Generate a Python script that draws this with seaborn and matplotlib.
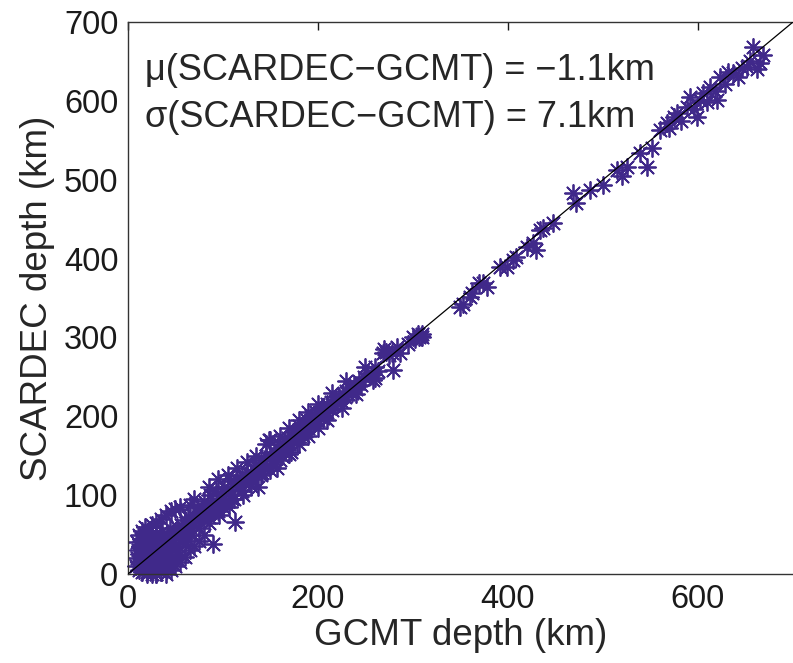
import seaborn as sns
import numpy as np
import pandas as pd
import matplotlib.pyplot as plt

# depths in km (GCMT, SCARDEC)
gcmt_shallow = [12, 12, 12, 13, 14, 15, 15, 15, 16, 17, 18, 18, 19, 20, 20, 21, 22, 23, 24, 25,
                25, 26, 27, 28, 29, 30, 30, 31, 32, 33, 33, 34, 35, 35, 36, 37, 38, 39, 40, 40,
                41, 42, 43, 44, 45, 45, 46, 47, 48, 50, 50, 52, 53, 54, 55, 56, 58, 59, 60, 60,
                10, 11, 14, 17, 22, 26, 30, 34, 38, 28, 20, 24,
                8, 10, 12, 15, 18, 25, 30, 35, 40, 45, 50, 55,
                40, 45, 50, 55, 60, 65, 70, 75, 80, 20, 30]
scardec_shallow = [5, 15, 25, 35, 10, 20, 30, 2, 40, 12, 25, 33, 6, 18, 28, 45, 10, 22, 35, 15,
                   0, 28, 40, 20, 52, 8, 30, 24, 38, 15, 33, 45, 2, 28, 55, 20, 36, 42, 10, 30,
                   48, 25, 38, 58, 15, 44, 32, 52, 40, 20, 47, 60, 35, 50, 25, 62, 45, 55, 38, 68,
                   20, 30, 45, 50, 55, 5, 0, 18, 22, 8, 2, 48,
                   10, 40, 50, 55, 60, 62, 65, 70, 75, 80, 82, 85,
                   0, 5, 10, 15, 22, 30, 35, 42, 50, 0, 0]

gcmt_mid = [62, 63, 65, 66, 68, 70, 72, 73, 75, 76, 78, 80, 80, 82, 84, 85, 86, 88, 89, 90,
            92, 93, 95, 96, 98, 100, 101, 103, 105, 106, 108, 110, 112, 113, 114, 116, 118, 120, 121, 123,
            125, 127, 128, 130, 132, 134, 135, 137, 138, 140, 141, 143, 145, 146, 148, 150, 152, 154, 155, 157,
            158, 160, 162, 163, 165, 167, 168, 170, 172, 174, 175, 177, 178, 180, 182, 184, 185, 187, 188, 190,
            192, 193, 195, 197, 198, 200, 202, 204, 205, 207, 209, 210, 212, 214, 215, 217, 219, 220, 222, 224,
            226, 228, 230, 232, 234, 236, 238, 240, 243, 245, 248, 250, 253, 256, 258, 260, 263, 268, 270, 272,
            275, 278, 279, 283, 286, 295, 300, 302, 305, 306, 308, 309, 310,
            65, 70, 85, 95, 105, 115, 125, 135, 145, 150, 160, 170, 180, 190, 200, 215, 230, 250,
            85, 95, 100, 110, 120, 130, 140, 150, 160, 170, 180, 190, 200, 210, 225, 240, 260]
scardec_mid = [55, 72, 60, 50, 75, 62, 68, 85, 58, 72, 80, 70, 92, 78, 88, 65, 100, 80, 38, 92,
               84, 105, 88, 75, 100, 95, 110, 92, 108, 85, 118, 102, 95, 66, 120, 110, 112, 125, 100, 118,
               130, 115, 122, 128, 120, 138, 130, 110, 135, 145, 128, 140, 150, 138, 170, 148, 140, 155, 148, 135,
               160, 165, 150, 158, 168, 160, 172, 165, 155, 180, 172, 178, 168, 188, 180, 175, 190, 182, 195, 185,
               192, 200, 190, 198, 205, 195, 200, 210, 198, 205, 215, 206, 210, 218, 208, 214, 222, 218, 225, 220,
               228, 225, 232, 228, 236, 230, 240, 235, 245, 240, 250, 248, 255, 252, 246, 262, 258, 280, 285, 282,
               278, 280, 259, 288, 280, 292, 300, 298, 305, 300, 302, 301, 305,
               88, 95, 110, 120, 125, 135, 142, 150, 165, 170, 175, 185, 195, 205, 215, 230, 245, 262,
               72, 80, 85, 95, 105, 112, 125, 132, 145, 152, 165, 175, 185, 195, 210, 228, 248]

gcmt_deep = [349, 353, 360, 362, 370, 374, 378, 392, 399, 405, 408, 420, 426, 430, 434, 437, 447,
             468, 472, 486, 500, 515, 520, 525, 539, 546, 552, 560, 567, 570, 575, 578, 582, 588, 592,
             596, 599, 602, 605, 610, 613, 618, 620, 623, 628, 632, 637, 642, 646, 652, 655, 658, 662, 665, 668]
scardec_deep = [339, 343, 351, 356, 369, 369, 364, 389, 389, 398, 402, 415, 420, 411, 436, 439, 445,
                483, 470, 487, 493, 512, 505, 516, 534, 516, 540, 563, 572, 565, 580, 584, 575, 592, 605,
                590, 580, 601, 610, 598, 618, 612, 601, 630, 622, 636, 635, 630, 642, 643, 650, 668, 640, 648, 658]

line_x = [0, 700]

df = pd.DataFrame({
    "gcmt": gcmt_shallow + gcmt_mid + gcmt_deep,
    "scardec": scardec_shallow + scardec_mid + scardec_deep,
})

sns.set_style("white")
plt.rcParams['font.family'] = ['Liberation Sans', 'DejaVu Sans']

fig = plt.figure(figsize=(7.93, 6.63), dpi=100)
ax = fig.add_axes([0.1614, 0.1342, 0.8386, 0.8326])

purple = "#40298a"
sns.scatterplot(data=df, x="gcmt", y="scardec", ax=ax, marker=(8, 2, 0), s=150,
                color=purple, edgecolor=purple, linewidth=1.3, clip_on=False, zorder=2)
sns.lineplot(x=line_x, y=line_x, ax=ax, color="black", linewidth=0.9, zorder=3)

ax.set_xlim(0, 700)
ax.set_ylim(0, 700)
ax.set_xticks([0, 200, 400, 600])
ax.set_yticks(range(0, 701, 100))
ax.tick_params(direction="in", length=6, width=1, labelsize=23.5, pad=7,
               top=True, right=False, colors="#1a1a1a")
for sp in ax.spines.values():
    sp.set_linewidth(1.0)
    sp.set_color("#333333")
ax.spines["right"].set_visible(False)

ax.set_xlabel("GCMT depth (km)", fontsize=26.5, labelpad=2)
ax.set_ylabel("SCARDEC depth (km)", fontsize=26.5, labelpad=6)

ax.text(18, 626, "\u03bc(SCARDEC\u2212GCMT) = \u22121.1km", fontsize=26, va="baseline")
ax.text(18, 567, "\u03c3(SCARDEC\u2212GCMT) = 7.1km", fontsize=26, va="baseline")

fig.savefig("out.png", dpi=100)
